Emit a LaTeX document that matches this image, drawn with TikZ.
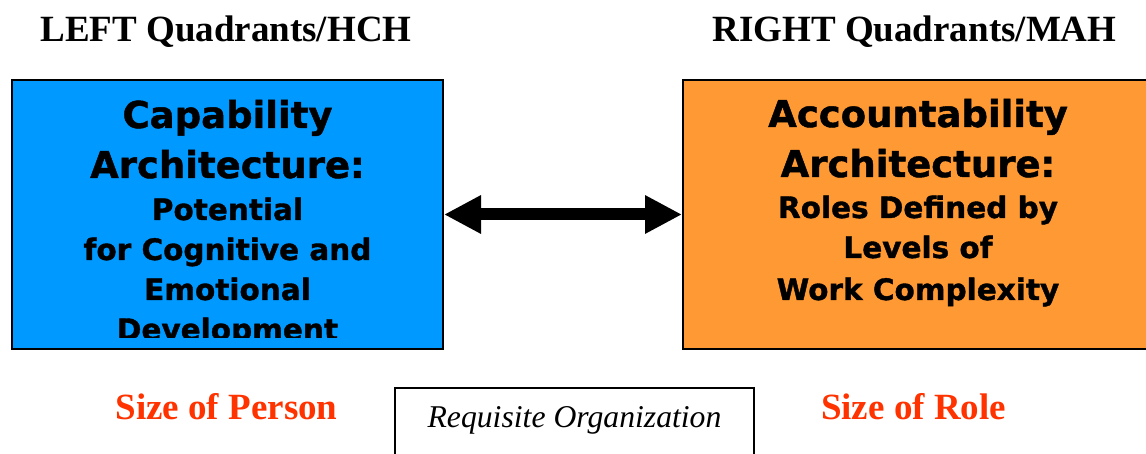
\documentclass[tikz,border=0pt]{standalone}
\usepackage{fontspec}
\setmainfont{Liberation Serif}
\newfontfamily\boxfont{DejaVu Sans}[BoldFeatures={FakeBold=1.2}]
\usetikzlibrary{arrows.meta}
\definecolor{capblue}{HTML}{0099FF}
\definecolor{accorange}{HTML}{FF9933}
\definecolor{sizered}{HTML}{FF3300}
\tikzset{
  archbox/.style={draw=black, line width=2pt, rectangle, inner sep=0pt},
  bigline/.style={anchor=base, inner sep=0pt, font=\boxfont\bfseries\fontsize{37}{44}\selectfont},
  smallline/.style={anchor=base, inner sep=0pt, font=\boxfont\bfseries\fontsize{29.5}{36}\selectfont},
  heading/.style={anchor=base, inner sep=0pt, font=\bfseries\fontsize{37}{44}\selectfont},
  sizelabel/.style={anchor=base, inner sep=0pt, text=sizered, font=\bfseries\fontsize{37}{44}\selectfont},
  linkarrow/.style={line width=12pt, {Triangle[length=37pt,width=36pt]}-{Triangle[length=37pt,width=36pt]}},
}
\begin{document}
\begin{tikzpicture}[x=1pt, y=-1pt]
  \useasboundingbox (0,0) rectangle (1146,454);
  \begin{scope}
  \clip (0,0) rectangle (1146,454);

  % column headings
  \node[heading] (lefthead) at (226,42) {LEFT Quadrants/HCH};
  \node[heading] (righthead) at (914.5,42) {RIGHT Quadrants/MAH};

  % capability box (left)
  \node[archbox, fill=capblue, minimum width=431pt, minimum height=269pt] (cap) at (227.5,214.5) {};
  \begin{scope}
    \clip (13,81) rectangle (442,338);
    \node[bigline] (cap1) at (227.5,128) {Capability};
    \node[bigline] (cap2) at (227.5,178) {Architecture:};
    \node[smallline] (cap3) at (227.5,220) {Potential};
    \node[smallline] (cap4) at (227.5,260) {for Cognitive and};
    \node[smallline] (cap5) at (227.5,300) {Emotional};
    \node[smallline] (cap6) at (227.5,340) {Development};
  \end{scope}

  % accountability box (right)
  \node[archbox, fill=accorange, minimum width=470pt, minimum height=269pt] (acc) at (918,214.5) {};
  \node[bigline] (acc1) at (918,127) {Accountability};
  \node[bigline] (acc2) at (918,177) {Architecture:};
  \node[smallline] (acc3) at (918,218) {Roles Defined by};
  \node[smallline] (acc4) at (918,258) {Levels of};
  \node[smallline] (acc5) at (918,300) {Work Complexity};

  % two-way link between the architectures
  \draw[linkarrow] (cap.east) -- (acc.west);

  % size labels
  \node[sizelabel] (person) at (226.5,419) {Size of Person};
  \node[sizelabel] (role) at (913.5,419) {Size of Role};

  % requisite organization box
  \node[draw=black, line width=2pt, minimum width=359pt, minimum height=100pt, inner sep=0pt] (req) at (574.5,438) {};
  \node[anchor=base, inner sep=0pt, font=\itshape\fontsize{31.7}{38}\selectfont] (reqtext) at (574.5,427) {Requisite Organization};
  \end{scope}
\end{tikzpicture}
\end{document}
